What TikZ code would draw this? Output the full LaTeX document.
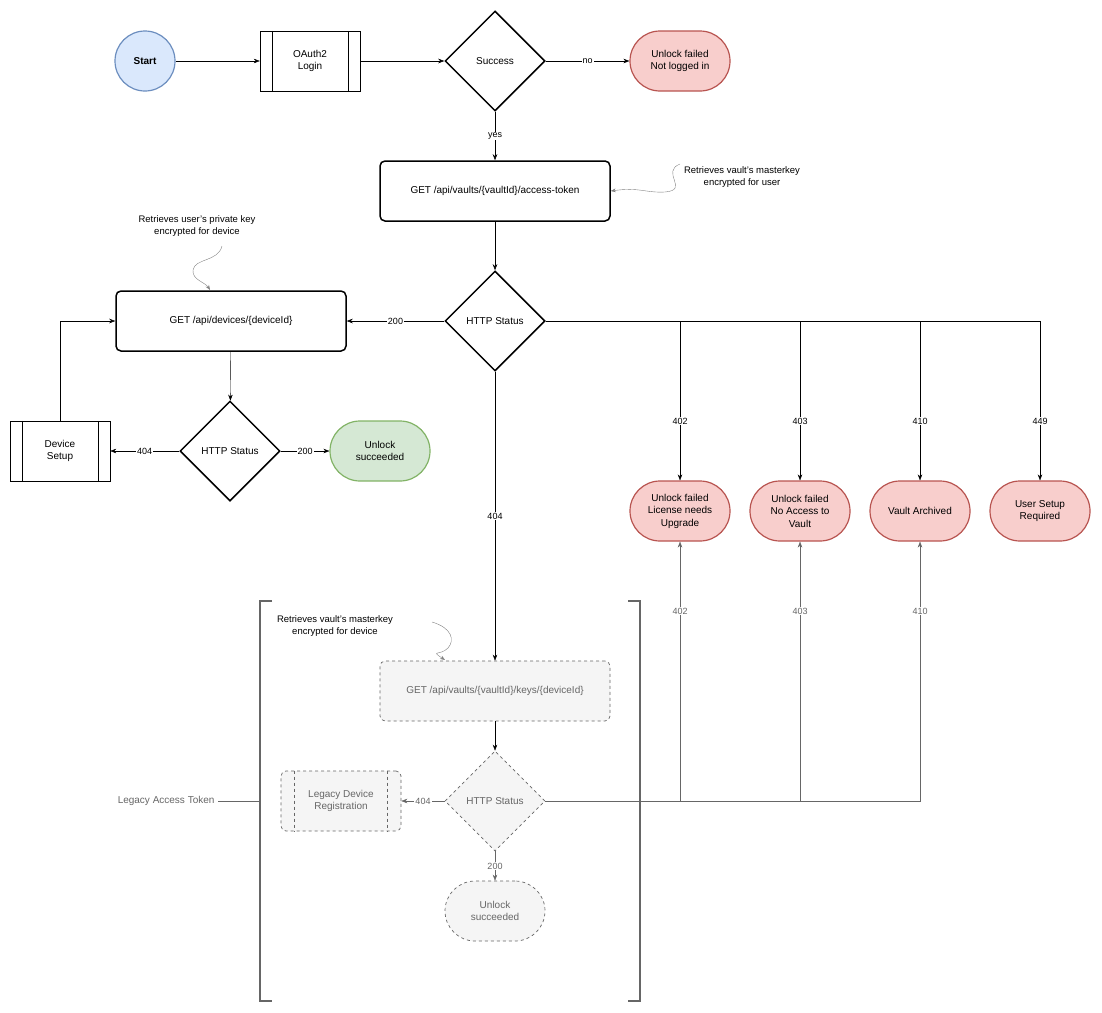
\documentclass[tikz,border=0pt]{standalone}
\usepackage{fontspec}
\setmainfont{Liberation Sans}
\usetikzlibrary{shapes.geometric, arrows.meta, positioning, calc}
\definecolor{startblue}{HTML}{DAE8FC}
\definecolor{startedge}{HTML}{6C8EBF}
\definecolor{failred}{HTML}{F8CECC}
\definecolor{failedge}{HTML}{B85450}
\definecolor{okgreen}{HTML}{D5E8D4}
\definecolor{okedge}{HTML}{82B366}
\definecolor{legacyfill}{HTML}{F5F5F5}
\definecolor{legacytext}{HTML}{666666}
\begin{document}
\begin{tikzpicture}[x=1pt, y=-1pt,
        every node/.style={font=\fontsize{10}{12.5}\selectfont},
        box/.style={draw, line width=1.5pt, rounded corners=5pt, minimum width=230pt, minimum height=60pt},
        proc/.style={draw, minimum width=100pt, minimum height=60pt, align=center},
        decision/.style={draw, line width=1.5pt, diamond, minimum width=100pt, minimum height=100pt, inner sep=0pt},
        pill/.style={draw, line width=1.2pt, rounded corners=30pt, minimum width=100pt, minimum height=60pt, align=center},
        fail/.style={pill, fill=failred, draw=failedge},
        legacy/.style={dashed, line width=0.7pt, draw=legacytext, fill=legacyfill, text=legacytext},
        arrow/.style={-{Stealth[length=6pt]}},
        garrow/.style={-{Stealth[length=6pt]}, draw=legacytext},
        lbl/.style={fill=white, inner sep=1pt, font=\fontsize{9}{11}\selectfont},
        glbl/.style={lbl, text=legacytext},
        note/.style={align=center, font=\fontsize{9.5}{12}\selectfont},
        squiggle/.style={-{Stealth[length=5pt]}, draw=gray}
    ]
        \useasboundingbox (0,0) rectangle (1102,1012);

        % Login
        \node[circle, draw=startedge, fill=startblue, line width=1.2pt, minimum size=60pt, font=\bfseries\fontsize{10}{12}\selectfont] (start) at (145,61) {Start};
        \node[proc] (login) at (310,61) {OAuth2\\Login};
        \draw ($(login.north west)+(12,0)$) -- ($(login.south west)+(12,0)$)
              ($(login.north east)+(-12,0)$) -- ($(login.south east)+(-12,0)$);
        \node[decision] (success) at (495,61) {Success};
        \node[fail] (notlogged) at (680,61) {Unlock failed\\Not logged in};

        % Access token
        \node[box] (token) at (495,191) {GET /api/vaults/\{vaultId\}/access-token};
        \node[note] (tokennote) at (742,177) {Retrieves vault's masterkey\\encrypted for user};
        \node[decision] (status) at (495,321) {HTTP Status};

        % Device key
        \node[box] (device) at (231,321) {GET /api/devices/\{deviceId\}};
        \node[note] (devicenote) at (197,226) {Retrieves user's private key\\encrypted for device};
        \node[decision] (devstatus) at (230,451) {HTTP Status};
        \node[proc] (setup) at (60,451) {Device\\Setup};
        \draw ($(setup.north west)+(12,0)$) -- ($(setup.south west)+(12,0)$)
              ($(setup.north east)+(-12,0)$) -- ($(setup.south east)+(-12,0)$);
        \node[pill, fill=okgreen, draw=okedge] (unlocked) at (380,451) {Unlock\\succeeded};

        % Failures
        \node[fail] (license) at (680,511) {Unlock failed\\License needs\\Upgrade};
        \node[fail] (noaccess) at (800,511) {Unlock failed\\No Access to\\Vault};
        \node[fail] (archived) at (920,511) {Vault Archived};
        \node[fail] (usersetup) at (1040,511) {User Setup\\Required};

        % Legacy
        \node[box, legacy] (keys) at (495,691) {GET /api/vaults/\{vaultId\}/keys/\{deviceId\}};
        \node[note] (keysnote) at (335,626) {Retrieves vault's masterkey\\encrypted for device};
        \node[decision, legacy] (legstatus) at (495,801) {HTTP Status};
        \node[proc, legacy, rounded corners=5pt, minimum width=120pt] (register) at (341,801) {Legacy Device\\Registration};
        \draw[dashed, draw=legacytext] ($(register.north west)+(14,0)$) -- ($(register.south west)+(14,0)$)
              ($(register.north east)+(-14,0)$) -- ($(register.south east)+(-14,0)$);
        \node[pill, legacy] (legunlocked) at (495,911) {Unlock\\succeeded};
        \draw[legacytext, line width=1.5pt] (272,601) -- (260,601) -- (260,1001) -- (272,1001);
        \draw[legacytext, line width=1.5pt] (628,601) -- (640,601) -- (640,1001) -- (628,1001);
        \coordinate (bracket) at (260,801);
        \node[text=legacytext, anchor=east] (legacylabel) at (218,801) {Legacy Access Token};
        \draw[legacytext, thick] (legacylabel.east) -- (bracket);

        % Arrows
        \draw[arrow] (start) -- (login);
        \draw[arrow] (login) -- (success);
        \draw[arrow] (success) -- node[lbl] {no} (notlogged);
        \draw[arrow] (success) -- node[lbl, pos=0.5] {yes} (token);
        \draw[arrow] (token) -- (status);
        \draw[arrow] (status) -- node[lbl] {200} (device);
        \draw[arrow] (device) -- (devstatus);
        \draw[arrow] (devstatus) -- node[lbl] {404} (setup);
        \draw[arrow] (devstatus) -- node[lbl] {200} (unlocked);
        \draw[arrow] (setup.north) |- (device.west);
        \draw[arrow] (status.east) -| (license.north);
        \draw[arrow] (status.east) -| (noaccess.north);
        \draw[arrow] (status.east) -| (archived.north);
        \draw[arrow] (status.east) -| (usersetup.north);
        \node[lbl] (l402) at (680,421) {402};
        \node[lbl] (l403) at (800,421) {403};
        \node[lbl] (l410) at (920,421) {410};
        \node[lbl] (l449) at (1040,421) {449};
        \draw[arrow] (status) -- node[lbl] {404} (keys);
        \draw[arrow] (keys) -- (legstatus);
        \draw[garrow] (legstatus) -- node[glbl] {404} (register);
        \draw[garrow] (legstatus) -- node[glbl] {200} (legunlocked);
        \draw[garrow] (legstatus.east) -| (license.south);
        \draw[garrow] (legstatus.east) -| (noaccess.south);
        \draw[garrow] (legstatus.east) -| (archived.south);
        \node[glbl] (g402) at (680,611) {402};
        \node[glbl] (g403) at (800,611) {403};
        \node[glbl] (g410) at (920,611) {410};

        % Notes
        \draw[squiggle] (680,164) .. controls (660,172) and (690,190) .. (665,192) .. controls (645,193) and (640,187) .. (token.east);
        \draw[squiggle] (222,246) .. controls (218,262) and (195,258) .. (193,270) .. controls (192,280) and (205,282) .. (210,290);
        \draw[squiggle] (432,622) .. controls (452,628) and (455,640) .. (448,648) .. controls (440,656) and (430,650) .. (445,660);
    \end{tikzpicture}
\end{document}
